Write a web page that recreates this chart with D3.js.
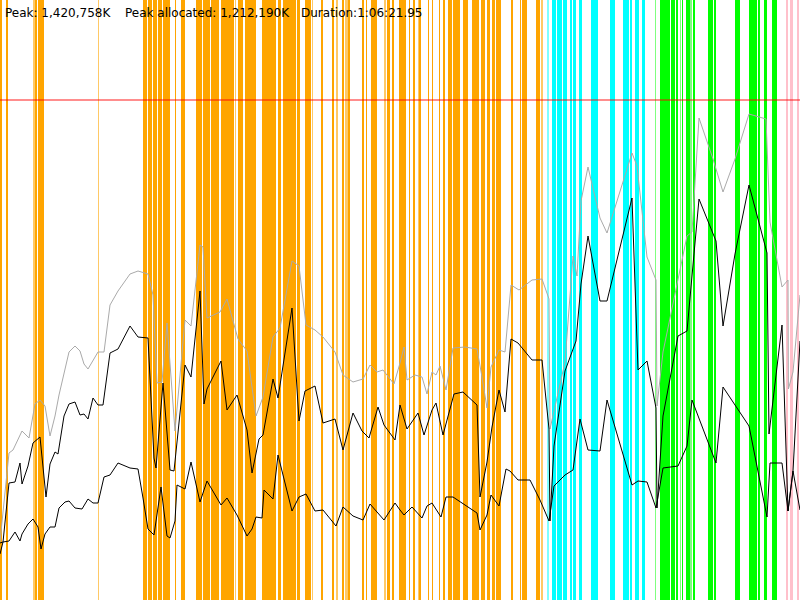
<!DOCTYPE html>
<html><head><meta charset="utf-8">
<script src="https://cdn.jsdelivr.net/npm/d3@7"></script>
<style>html,body{margin:0;padding:0;background:#fff;overflow:hidden}</style>
</head><body>
<svg id="chart" width="800" height="600"></svg>
<script>
// x: percent of run duration (0..100), y: percent of peak heap (100 = peak)
const summaryLabels = ["Peak: 1,420,758K", "Peak allocated: 1,212,190K", "Duration:1:06:21.95"];
const peakLevel = 100;

const heapSize = [[0,11.6],[1.125,29.4],[1.625,30],[2.75,33.8],[3.625,32.4],[4.375,39.2],[5,40],[5.625,38.8],[6.25,32.8],[6.875,36.8],[7.375,41],[8.625,49.6],[9.375,50.8],[10,49.8],[10.5,47.2],[11,46.2],[12.25,49.6],[13,49.6],[13.75,59],[14.75,61.8],[16.25,65.2],[17.25,65.8],[18.5,65.2],[19.125,61],[19.625,43.4],[20.25,43.6],[20.875,55.4],[21.875,33.8],[23.125,56],[23.875,54.8],[25,71],[25.375,70.6],[25.875,56.4],[27.5,57.6],[28.375,60.2],[29.75,52.2],[30.875,49.8],[32,36.8],[32.875,40.6],[34.125,52.6],[35,54.4],[36.5,67.8],[37.375,66.8],[38.25,55],[39.375,54],[40.375,52.6],[41.875,49.6],[42.875,45],[44.125,43.6],[45.375,44.2],[46.25,47],[47.125,45.6],[47.875,46],[49.25,43.2],[50,47.4],[50.5,50.6],[50.875,44],[51.875,45],[52.75,44.6],[53.375,41.2],[54,45.6],[54.5,45],[55,46.8],[55.75,42],[56.625,50.4],[58.125,50.6],[59.625,50.2],[60.25,44.6],[60.875,38.4],[61.375,46.6],[62.375,50],[63.125,49.6],[63.875,63],[64.875,62],[66.5,64],[67.75,64.2],[68.625,60.2],[68.75,34.2],[70.625,47.6],[71.625,68.8],[72.125,64.8],[72.625,79.8],[73.5,86.6],[75,76.4],[75.875,73.4],[79,89.4],[79.625,86.8],[80.875,68.6],[82,64],[82.125,38.8],[82.875,49.6],[85.875,72.8],[86.5,73.6],[87.375,96.4],[89.125,88.2],[90.375,81.6],[91.875,88.2],[93.625,97.2],[95.75,96.2],[96.25,75.6],[97.75,62.6],[98.5,64],[98.55,42.2],[99.125,45.6],[100,61]];

const usedBefore = [[0,11.4],[0.375,11.6],[1.125,23.4],[1.875,23.6],[2.5,27.4],[2.75,23.2],[3.5,26.8],[4.125,31.4],[5,32.6],[5.75,20.6],[6.25,27.2],[6.875,29.6],[7.25,29.2],[8,36.8],[8.625,39.2],[9.375,39.6],[10,37],[10.5,37.2],[11,36.2],[11.625,40.4],[12.25,39],[12.875,39],[13.75,49.4],[14.75,50.2],[16.25,54.8],[17.25,52.6],[18.5,52.4],[19.25,28.4],[19.5,26.4],[20.375,43.4],[21.25,26],[21.75,25.8],[23.125,47],[23.875,44.6],[25,61.8],[25.5,39.2],[25.875,42.2],[27.625,47.8],[28.375,38],[29.625,41],[30.875,34],[31.5,25.4],[32.375,32.2],[32.875,33],[34.125,44.2],[34.75,40.4],[36.5,58.4],[37.375,35.8],[38.125,41.8],[39.375,42.8],[40.375,35.4],[41.875,36.2],[42.875,30],[44.125,37.4],[45.25,33.8],[46.125,32.4],[47.25,38.6],[48,35],[49.375,32],[50,39],[50.875,34.2],[52.25,37.4],[53,33],[54,38],[54.5,39.4],[55.375,33],[56.75,41.2],[57.875,41.6],[59.625,39],[60,20.6],[60.875,27.6],[61.5,34.6],[62.375,42],[63.125,37.6],[63.875,52.2],[64.75,51.4],[66.5,48],[67.75,48],[68.625,34.2],[68.75,15.8],[69.25,30.8],[70.625,45.8],[72,51.8],[72.625,63.2],[73.5,72.8],[75,59.8],[75.875,59.8],[79,80.4],[79.75,46],[80.875,47.8],[82,38.4],[82.125,18.4],[82.875,36.8],[84.75,52.8],[85.875,53.8],[87.375,80.2],[89.5,71.8],[90.375,54.8],[91.875,69.2],[93.625,83],[95.875,69.4],[96.125,33.2],[97.75,55],[98.5,17.8],[99.125,25.8],[100,51.8]];

const usedAfter = [[0,9.2],[0.375,11.6],[1.125,11.8],[1.875,13.6],[2.5,11.8],[2.75,13.2],[3.5,15.2],[4.125,16.2],[4.75,14.6],[5.125,10.2],[5.625,13.2],[6.25,14.6],[6.875,14.6],[7.375,18.4],[8.125,19.6],[8.625,19.8],[9.375,18.4],[10.25,18.2],[11,20.2],[11.625,19.4],[12.25,19.4],[13,24.6],[13.75,25],[14.75,27.4],[16.25,26.4],[17.25,26.2],[17.875,20.4],[18.5,14.2],[19.25,13],[20.125,22.6],[20.875,12.8],[21.25,12.4],[21.875,15.8],[22.125,23],[23.125,22.2],[23.875,27.6],[25,19.6],[25.875,23.8],[27.625,19],[28.375,20.4],[29.625,17],[30.875,12.8],[31.5,14.2],[32,16.6],[32.75,16.4],[33,22],[34.125,20.2],[34.75,29],[36.5,17.8],[37.375,20.6],[38.25,21.2],[39.375,17.8],[40.375,18],[42,14.8],[42.875,18.6],[44.125,16.8],[45.375,16],[46.25,19.2],[48,16],[49.375,19.4],[50,18],[50.5,17],[51.5,18.6],[52.75,16.4],[53.375,18.8],[54,19.4],[55.125,16.6],[55.75,20.6],[56.625,20.6],[58.5,18.6],[59.625,17.4],[60,14],[60.875,17],[61.375,21],[62.375,18.8],[63.25,26.2],[63.75,25.8],[64.75,24],[66.25,24],[67.5,20],[68.625,15.8],[69.25,22.8],[70.625,25],[71.625,26],[72.5,36.2],[73.5,30],[75,29.8],[75.875,40],[79,23],[79.75,23.8],[80.875,23.6],[82,18.4],[82.875,26.4],[84.75,26.8],[85.875,30.8],[86.5,40],[89.5,27.4],[90.375,42.6],[93.625,34.8],[95.875,16.6],[96.25,27.4],[97.75,27.4],[98.5,17.8],[99.125,25.8],[100,18]];

// collection events: [start %, end %]
const gcOrange = [[0,0.25],[0.75,1],[4.375,4.625],[4.75,5.5],[17.875,18.375],[18.5,19],[19.125,19.625],[19.75,20.25],[20.375,21.25],[21.875,22],[22.625,23.125],[24.5,25.25],[25.375,26.25],[26.375,27.375],[27.625,29.25],[29.75,30.375],[30.625,32],[32.75,34.5],[34.75,35.125],[35.375,37],[37.125,37.5],[38.125,38.875],[40.125,40.375],[41.5,41.75],[42.75,43],[43.5,43.75],[45.25,45.5],[45.75,45.875],[46.375,47.125],[48.375,48.75],[49,49.25],[49.875,50.75],[51.125,51.25],[51.625,51.875],[52.375,52.625],[53.5,53.625],[54,54.125],[54.875,55],[55.375,55.625],[56,56.5],[56.625,57.5],[57.875,58.5],[59,59.875],[60.125,60.625],[60.875,61.25],[61.5,61.875],[62,62.625],[63.875,64.125],[65,65.125],[65.25,65.875],[67,67.5]];
const gcOrangeLight = [[4.125,4.375],[12.25,12.375],[29.375,29.5],[39,39.125],[42,42.25],[43.125,43.5],[48,48.25],[52.25,52.375],[67.625,67.875]];
const gcCyan = [[69,69.5],[69.625,70.25],[70.375,70.875],[71.25,71.5],[71.625,72],[72.375,72.75],[73.875,74.75],[76.25,76.875],[77.875,78.625],[78.75,79],[79.375,79.875],[80.25,80.625]];
const gcCyanLight = [[68.375,68.625]];
const gcGreen = [[82.5,83.75],[83.875,84.375],[84.5,84.75],[85.25,85.375],[85.75,86.25],[86.625,86.875],[88.5,89.125],[89.25,89.5],[91.875,92.5],[93.625,94.625],[94.75,95],[95.5,95.875],[96.5,97.125]];
const gcGreenLight = [[81.875,82],[85,85.125],[86.25,86.5]];
const gcPink = [[98.25,98.5],[98.75,99.125],[99.625,99.875]];

const W = 800, H = 600;
const svg = d3.select("#chart");
const x = d3.scaleLinear().domain([0, 100]).range([0, W]);
const y = d3.scaleLinear().domain([0, 120]).range([H, 0]);

function bars(data, color, op) {
  svg.append("g").selectAll("rect").data(data).join("rect")
    .attr("x", d => x(d[0]))
    .attr("y", 0)
    .attr("width", d => Math.max(1, x(d[1]) - x(d[0])))
    .attr("height", H)
    .attr("fill", color)
    .attr("fill-opacity", op);
}
bars(gcOrange, "#ffa500", 1);
bars(gcOrangeLight, "#ffa500", 0.6);
bars(gcCyan, "#00ffff", 1);
bars(gcCyanLight, "#00ffff", 0.5);
bars(gcGreen, "#00ff00", 1);
bars(gcGreenLight, "#00ff00", 0.5);
bars(gcPink, "#ffc0cb", 1);

svg.append("line")
  .attr("x1", 0).attr("x2", W)
  .attr("y1", y(peakLevel)).attr("y2", y(peakLevel))
  .attr("stroke", "#ff0000").attr("stroke-opacity", 0.6).attr("stroke-width", 1.5);

const line = d3.line().x(d => x(d[0])).y(d => y(d[1]));
svg.append("path").datum(heapSize).attr("d", line)
  .attr("fill", "none").attr("stroke", "#aaaaaa").attr("stroke-width", 1);
svg.append("path").datum(usedBefore).attr("d", line)
  .attr("fill", "none").attr("stroke", "#000").attr("stroke-width", 1);
svg.append("path").datum(usedAfter).attr("d", line)
  .attr("fill", "none").attr("stroke", "#000").attr("stroke-width", 1);

const labelX = [5, 125, 301];
svg.append("g").selectAll("text").data(summaryLabels).join("text")
  .attr("x", (d, i) => labelX[i]).attr("y", 17)
  .attr("font-family", "DejaVu Sans, sans-serif").attr("font-size", 12)
  .attr("fill", "#000")
  .text(d => d);
</script>
</body></html>
